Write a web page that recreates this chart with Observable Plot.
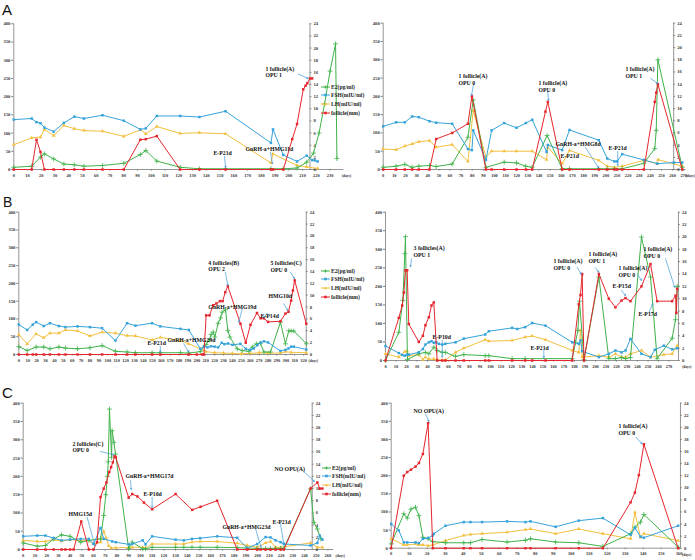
<!DOCTYPE html>
<html><head><meta charset="utf-8">
<script src="https://cdn.jsdelivr.net/npm/d3@7"></script>
<script src="https://cdn.jsdelivr.net/npm/@observablehq/plot@0.6"></script>
<style>
body{margin:0;background:#fff;}
#wrap{position:relative;width:695px;height:560px;overflow:hidden;background:#fff;}
#wrap svg{position:absolute;left:0;top:0;}
.lab{position:absolute;font-family:"Liberation Sans",Arial,sans-serif;line-height:1;color:#111;}
.leg{position:absolute;font-size:5.6px;font-weight:bold;font-family:"Liberation Serif",serif;color:#222;}
.leg div{height:8.6px;display:flex;align-items:center;white-space:nowrap;}
.leg svg{position:static !important;margin-right:1px;}
</style></head><body><div id="wrap"></div>
<script>
// ---------- shared ticks / labels ----------
const LEFT_TICKS = [0,50,100,150,200,250,300,350,400];
const RIGHT_TICKS = [0,2,4,6,8,10,12,14,16,18,20,22,24];
const SERIES_NAMES = ["E2(pg/ml)","FSH(mIU/ml)","LH(mIU/ml)","follicle(mm)"];
const COLORS = ["#3fb24a","#35a3da","#f3c03f","#e5262d"];

// ---------- Panel A left ----------
const aL_E2 = [[0,6],[13,9],[19.4,34],[22.3,43],[29,29],[36.4,15],[44,13],[51,9],[64.5,11],[80,17],[92,41],[96,52],[104,23],[121,6],[135,2],[154,2],[187,2],[196,2],[206,4],[213,20],[218,45],[222,100],[226,180],[230,270],[234,345],[235,30]];
const aL_FSH = [[0,137],[13,140],[16.5,130],[19.4,127],[22.3,115],[29,104],[36.4,128],[44,145],[51,140],[64.5,149],[80,134],[92,110],[96,113],[104,147],[121,147],[135,144],[154,160],[187,73],[188.5,110],[196,40],[206,22],[213,38],[217,26],[219,25],[221,22]];
const aL_LH = [[0,68],[13,87],[19.4,89],[22.3,110],[29,93],[36.4,121],[44,112],[51,107],[64.5,105],[80,91],[92,109],[96,98],[104,118],[121,99],[135,101],[154,98],[187,18],[188.5,43],[206,11],[213,7],[221,3]];
const aL_FOL = [[0,0],[13,0],[16.5,4.9],[19.4,2.9],[22.3,0],[29,0],[36.4,0],[44,0],[51,0],[64.5,0],[80,0],[92,4.9],[96,5],[104,5.5],[121,0],[135,0],[154,0],[187,0],[188.5,0],[196,0],[202.5,5],[206,7.5],[210.5,13.2],[212.2,13.8],[213.4,14.2],[215.4,15],[217,15]];
const aL_NOTES = [[183,268,"1 follicle(A)\nOPU 1"],[168.5,58,"GnRH-a+HMG11d"],[145.2,47,"E-P21d"]];
const aL_ARROWS = [[207,262,214,250],[186.7,47,188.1,16],[153.3,36,154,5]];

// ---------- Panel A right ----------
const aR_E2 = [[0,6],[11.6,9],[19.4,14],[26,6],[32,9],[41.6,11],[47.6,8],[62,15],[76.1,88],[80.9,190],[92.3,6],[108.7,20],[119.8,18],[128,9],[133.9,6],[147.3,93],[160.8,2],[167.4,2],[193.7,2],[201.3,2],[207.8,2],[214.7,2],[234.2,17],[244,57],[245.3,107],[246.8,300],[268.7,6]];
const aR_FSH = [[0,118],[11.6,129],[19.4,129],[26,145],[32,143],[41.6,132],[47.6,128],[62,125],[76.1,56],[79.7,53],[80.9,107],[92.3,26],[97.4,107],[108.7,127],[119.8,114],[128.2,127],[133.9,136],[146.8,48],[147.9,67],[160.8,53],[167.4,108],[193.7,80],[201.3,30],[207.8,22],[210.2,22],[214.7,42],[234.2,26],[246.2,16],[261.2,19],[268.7,19]];
const aR_LH = [[0,56],[11.6,54],[19.4,64],[26,70],[32,76],[41.6,79],[47.6,61],[62,68],[76.1,22],[80.9,161],[92.3,34],[97.4,50],[108.7,50],[119.8,50],[133.9,50],[146.8,27],[147.9,61],[160.8,16],[167.4,52],[193.7,25],[201.3,9],[207.8,6],[214.7,9],[234.2,25],[246.2,16],[247,27],[268.7,9]];
const aR_FOL = [[0,0],[11.6,0],[19.4,0],[26,0],[32,0],[41.6,0],[47.6,5],[62,6],[76.1,7.5],[79.7,12],[92.3,0],[97.4,0],[108.7,0],[119.8,0],[128.2,0],[133.9,0],[145.8,9.5],[147.9,11.1],[160.8,0],[167.4,0],[193.7,0],[201.3,0],[207.8,0],[210.2,0],[214.7,0],[234.2,0],[244,11.1],[245.3,12.6],[246.8,14],[268.7,0]];
const aR_NOTES = [[67.7,246,"1 follicle(A)\nOPU 0"],[139.5,227,"1 follicle(A)\nOPU 0"],[154.8,71,"GnRH-a+HMG8d"],[159.3,38,"E-P21d"],[202.4,60,"E-P21d"],[217.7,265,"1 follicle(A)\nOPU 1"]];
const aR_ARROWS = [[81.2,233,79.4,203],[147.7,214,148.6,189],[181.7,60,193.5,5],[210.7,49,210.7,11],[240.3,249,246.6,235]];

// ---------- Panel B left ----------
const bL_E2 = [[0,22],[9.4,11],[19.5,21],[28,21],[35,16],[45,21],[52.4,18],[66,16],[80,19],[93.6,25],[108.6,9],[121.7,7],[131,5],[149.8,5],[159,5],[181.6,5],[191,4],[204,8],[210.5,28],[214.3,41],[216.1,56],[218.4,63],[220.3,49],[224,88],[226.7,103],[228.5,119],[232.3,126],[234.9,67],[237.2,49],[245.4,16],[251,11],[258.5,9],[262.3,21],[267,30],[271.6,32],[275.4,7],[282.8,7],[294,91],[299.6,30],[303.4,67],[306,66],[309,66],[323.2,30]];
const bL_FSH = [[0,84],[9.4,69],[15.7,84],[19.5,91],[28,80],[35,88],[45,80],[52.4,77],[66,79],[80,77],[93.6,74],[108.6,39],[121.7,88],[131,81],[149.8,88],[159,79],[181.6,72],[191,69],[204,16],[208,23],[212,20],[216,23],[220,22],[224,20],[228,33],[231,29],[235,31],[240,27],[249,30],[255,16],[260,13],[264,17],[268,26],[271.6,33],[275.4,37],[280,34],[294,10],[299.6,13],[303,17],[306,22],[309,22],[323,14]];
const bL_LH = [[0,56],[9.4,30],[19.5,58],[28,47],[35,60],[45,60],[52.4,69],[66,66],[80,52],[93.6,63],[108.6,60],[121.7,53],[131,52],[149.8,41],[159,48],[181.6,39],[191,30],[204,16],[210,8],[220,5],[230,4],[240,3],[250,2],[260,3],[270,5],[280,4],[294,4],[299.6,8],[306,6],[323,5]];
const bL_FOL = [[0,0],[9.4,0],[15.7,0],[19.5,0],[28,0],[35,0],[45,0],[52.4,0],[66,0],[80,0],[93.6,0],[108.6,0],[121.7,0],[131,0],[149.8,0],[159,0],[191,0],[200,0],[206,0],[208,0],[210.5,6.6],[214.3,6.6],[218.4,8.3],[222,8.6],[226,9],[229,9],[232,10.5],[234.9,11.5],[249,5.2],[255,2],[260.3,5],[267.6,7],[271.6,6.1],[275.4,6.1],[280,5.5],[294,5.6],[299.6,6.9],[303,7.2],[306,9.1],[308,10.8],[310,12.5],[323,5.2]];
const bL_NOTES = [[144.6,34,"E-P21d"],[167,42,"GnRH-a+HMG29d"],[213,249,"4 follicles(B)\nOPU 2"],[213,135,"GnRH-a+HMG19d"],[271.6,110,"E-P14d"],[280.6,166,"HMG10d"],[282.8,247,"5 follicles(C)\nOPU 0"]];
const bL_ARROWS = [[159,23,159,6],[185.4,30,191,6.5],[232.2,231,234.8,194],[251,128,247.2,91],[279,116,275.3,103],[297.8,142,302.3,124],[305.3,231,309.8,213]];

// ---------- Panel B right ----------
const bR_E2 = [[0,0],[12.7,76],[16.5,162],[18.4,288],[19,334],[20.9,3],[31.7,18],[38,22],[41.3,18],[46,36],[49.2,27],[54,22],[57,22],[66.7,11],[74.6,16],[95,13],[98.4,13],[120.6,5],[133,5],[177.8,5],[181,49],[183.2,81],[184.8,160],[189,2],[203.2,225],[212.7,5],[219,5],[224.8,8],[228.6,5],[233.3,8],[243.8,333],[252.4,225],[258.7,5],[273,60],[276.2,110],[277.8,200]];
const bR_FSH = [[0,39],[12.7,20],[15.9,15],[18.4,13],[20.6,16],[22.2,16],[31.7,22],[35.6,31],[38,43],[41.3,49],[43.8,52],[46,48],[48.3,49],[50.8,45],[54,43],[57,45],[66.7,49],[74.6,59],[95,70],[98.4,79],[120.6,88],[125.4,85],[133,90],[139.7,101],[152.4,94],[177.8,49],[184.1,45],[185.7,54],[187.3,25],[203.2,9],[212.7,18],[219,27],[224.8,22],[228.6,27],[233.3,58],[243.8,18],[252.4,9],[256.5,29],[265.1,40],[273,30],[277.8,33]];
const bR_LH = [[0,18],[12.7,9],[18.4,24],[20.6,25],[22.2,13],[31.7,16],[35.6,2],[38,9],[41.3,4],[46,4],[49.2,2],[54,1],[57,1],[66.7,22],[74.6,33],[95,56],[98.4,52],[120.6,54],[133,63],[139.7,66],[152.4,56],[177.8,27],[184.1,22],[185.7,81],[187.3,9],[203.2,13],[212.7,9],[219,18],[224.8,9],[228.6,9],[233.3,18],[243.8,27],[252.4,9],[265.1,16],[273,18],[277.8,40]];
const bR_FOL = [[0,0],[12.7,6.9],[15.9,8.9],[17.5,11],[19,14.6],[20.6,14.6],[22.2,5.9],[31.7,3],[35.6,4],[38,5.7],[41.3,7],[43.8,8.9],[46,9.4],[49.2,0],[54,0],[57,0],[66.7,0],[74.6,0],[95,0],[98.4,0],[120.6,0],[133,0],[139.7,0],[152.4,0],[177.8,0],[184.1,9.1],[185.7,10.6],[187.3,14],[189,0],[203.2,14],[212.7,10],[219,8.6],[224.8,9.7],[228.6,10.1],[233.3,9.6],[243.8,12],[252.4,15.6],[258.7,9.6],[273,9.6],[276.2,10.5],[277,7.7],[277.8,11.6]];
const bR_NOTES = [[26.7,295,"3 follicles(A)\nOPU 1"],[44.8,65,"E-P10d"],[138,35,"E-P21d"],[160,260,"1 follicle(A)\nOPU 0"],[193.3,278,"1 follicle(A)\nOPU 1"],[216.2,202,"E-P15d"],[222,241,"1 follicle(A)\nOPU 0"],[241,127,"E-P17d"],[245.7,291,"1 follicle(A)\nOPU 0"]];
const bR_ARROWS = [[24.8,274,23.8,253],[54,54,54,9],[150.8,27,150.8,7],[182.6,251,186.4,233],[200,250,203.2,238],[224.8,189,228.6,175],[239.7,234,243.8,216],[250.8,130,254.6,153],[266.7,274,275.5,197]];

// ---------- Panel C left ----------
const cL_E2 = [[0,18],[12,9],[19,11],[26,29],[32.7,40],[40,36],[49,20],[56,25],[66,29],[68.7,93],[70.5,150],[71.8,200],[72.6,240],[73.6,384],[75.4,252],[75.9,325],[77.4,293],[78.8,261],[90,2],[93,20],[102,2],[104.4,2],[110,6],[130,6],[137,6],[144,6],[151,6],[165.5,6],[182.6,5],[191,4],[199.6,3],[206.8,3],[211,3],[215.3,3],[219.6,3],[222.4,3],[245.2,166],[248,74],[251,56],[254,29]];
const cL_FSH = [[0,36],[12,38],[19,38],[26,31],[32.7,25],[40,27],[49,29],[56,29],[60,15],[66,59],[68.7,29],[76,22],[79,20],[90,14],[93,15],[102,25],[104.4,14],[110,36],[130,27],[137,25],[144,29],[151,31],[165.5,36],[182.6,32],[191,4],[199.6,15],[206.8,34],[211,33],[215.3,25],[219.6,20],[222.4,15],[245.2,11],[251,18],[253,38],[255.3,27]];
const cL_LH = [[0,25],[12,22],[19,22],[26,27],[32.7,23],[40,27],[49,25],[56,25],[60,15],[66,20],[68.7,50],[71,30],[73,10],[75,4],[79,5],[90,5],[93,6],[102,6],[104.4,4],[110,15],[130,15],[137,15],[144,20],[151,22],[165.5,22],[182.6,17],[191,11],[199.6,6],[206.8,18],[211,22],[215.3,6],[219.6,6],[245.2,18],[251,6],[255.3,6]];
const cL_FOL = [[0,0],[12,0],[19,0],[26,0],[32.7,0],[36,0],[40,0],[43,0],[49.5,4.6],[56,0],[60,0],[63,1.2],[66,8.6],[68.7,10],[71,11],[73.4,12.7],[75,13.5],[76.5,14.3],[78,15.3],[79,15.1],[90,8.5],[93,9.1],[97.5,8.7],[103,7.7],[110,6.6],[130,9.1],[144.2,6.5],[151.3,7],[165.5,8],[182.6,0],[191.2,0],[199.6,0],[202.5,0],[206.8,0],[211,0],[215.3,0],[219.6,0],[222.4,0],[245.2,10],[251,11],[253,10],[255.3,10]];
const cL_NOTES = [[42,281,"2 follicles(C)\nOPU 0"],[87.3,202,"GnRH-a+HMG17d"],[102.6,153,"E-P10d"],[38.7,98,"HMG15d"],[170,63,"GnRH-a+HMG23d"],[212.7,76,"E-P21d"],[214.4,221,"NO OPU(A)"]];
const cL_ARROWS = [[66,268,77.3,259],[91.6,188,92.1,164],[110,143,110,115],[54.6,88,61.1,11],[198.2,57,203,6],[219.5,70,222.3,16],[239.4,213,248.5,186]];

// ---------- Panel C right ----------
const cR_E2 = [[0,12],[7,95],[8.9,83],[11,108],[13.5,113],[15.4,90],[17.6,30],[20.5,26],[23.1,18],[30.2,15],[40.3,15],[44,15],[50.5,24],[64.4,17],[74.6,22],[77.4,26],[91.3,17],[104.2,15],[117.6,5],[133,40],[135.4,58],[138.5,72],[140.4,93],[159.4,3]];
const cR_FSH = [[0,67],[4.2,49],[7,16],[8.9,16],[13.5,16],[15.4,14],[17.6,26],[20.5,28],[23.1,35],[23.7,40],[30.2,62],[40.3,72],[44,72],[50.5,72],[64.4,74],[74.6,72],[77.4,74],[91.3,59],[104.2,76],[117.6,83],[133,37],[135.4,56],[138.5,32],[140.4,29],[159.4,62]];
const cR_LH = [[0,26],[7,9],[8.9,9],[13.5,12],[15.4,9],[17.6,9],[20.5,7],[23.1,9],[30.2,21],[40.3,35],[44,38],[50.5,40],[64.4,44],[74.6,51],[77.4,53],[91.3,40],[104.2,53],[117.6,40],[133,26],[135.4,99],[138.5,30],[140.4,40],[159.4,21]];
const cR_FOL = [[0,0],[7,12],[8.9,12.6],[11,13],[13.5,13.5],[15.4,14.1],[17.6,15.6],[20.5,20.7],[23.1,0],[30.2,0],[40.3,0],[44,0],[50.5,0],[64.4,0],[74.6,0],[77.4,0],[91.3,0],[104.2,0],[117.6,0],[133,7.6],[135.4,9.2],[137.6,12.1],[140.4,17.2],[159.4,0]];
const cR_NOTES = [[12.4,380,"NO OPU(A)"],[126.3,327,"1 follicle(A)\nOPU 0"]];
const cR_ARROWS = [[19,371,20.9,350],[136,306,139.4,288]];

// ---------- layout (pixels) ----------
const LAYOUT = [
  {x0:13.3, ppd:1.375, dMax:240, top:23.3, bottom:169, rDay:215.4, lastTick:230, daysAt:238.5, data:[aL_E2,aL_FSH,aL_LH,aL_FOL], notes:aL_NOTES, arrows:aL_ARROWS},
  {x0:382.7, ppd:1.113, dMax:272, top:22.7, bottom:169, rDay:261, lastTick:270, daysAt:271.6, data:[aR_E2,aR_FSH,aR_LH,aR_FOL], notes:aR_NOTES, arrows:aR_ARROWS},
  {x0:18.3, ppd:0.89, dMax:325, top:211.7, bottom:354, rDay:323, lastTick:320, daysAt:325.5, data:[bL_E2,bL_FSH,bL_LH,bL_FOL], notes:bL_NOTES, arrows:bL_ARROWS},
  {x0:385, ppd:1.05, dMax:280, top:211.7, bottom:360, rDay:279, lastTick:270, daysAt:282.5, data:[bR_E2,bR_FSH,bR_LH,bR_FOL], notes:bR_NOTES, arrows:bR_ARROWS},
  {x0:22.7, ppd:1.172, dMax:265, top:402.7, bottom:549, rDay:246.6, lastTick:260, daysAt:266.5, data:[cL_E2,cL_FSH,cL_LH,cL_FOL], notes:cL_NOTES, arrows:cL_ARROWS},
  {x0:390.7, ppd:1.8, dMax:161, top:402.7, bottom:547.7, rDay:160.7, lastTick:160, daysAt:161.6, data:[cR_E2,cR_FSH,cR_LH,cR_FOL], notes:cR_NOTES, arrows:cR_ARROWS}
];
const MM = 400/24;
const AXIS = "#7a7a7a";
const FONT = "Liberation Serif";

const wrap = document.getElementById("wrap");

function seriesMarks(arr, i) {
  const yf = i === 3 ? d => d[1]*MM : d => d[1];
  const m = [Plot.line(arr, {x: d => d[0], y: yf, stroke: COLORS[i], strokeWidth: 1})];
  if (i === 0) m.push(Plot.dot(arr, {x: d => d[0], y: yf, symbol: "plus", r: 1.7, stroke: COLORS[i], strokeWidth: 0.8}));
  else m.push(Plot.dot(arr, {x: d => d[0], y: yf, symbol: i === 2 ? "triangle" : "square", r: 1.4, fill: COLORS[i], stroke: "none"}));
  return m;
}

LAYOUT.forEach(L => {
  const x1 = L.x0 + L.dMax * L.ppd;
  const xt = d3.range(0, L.lastTick + 1, 10);
  const order = [2, 0, 1, 3];
  const svg = Plot.plot({
    width: 695, height: 560,
    marginLeft: L.x0, marginRight: 695 - x1, marginTop: L.top, marginBottom: 560 - L.bottom,
    x: {domain: [0, L.dMax]},
    y: {domain: [0, 400]},
    style: {background: "none", overflow: "visible", fontFamily: FONT, fontWeight: "bold", color: "#333"},
    marks: [
      Plot.ruleY([0], {x1: 0, x2: L.dMax, stroke: AXIS, strokeWidth: 0.8}),
      Plot.ruleX([0], {y1: 0, y2: 400, stroke: AXIS, strokeWidth: 0.8}),
      Plot.ruleX([L.rDay], {y1: 0, y2: 400, stroke: AXIS, strokeWidth: 0.8}),
      Plot.axisY({ticks: LEFT_TICKS, tickSize: 2, tickPadding: 1.5, fontSize: 4.6, stroke: AXIS, label: null}),
      Plot.axisX({ticks: xt, tickSize: 1.5, tickPadding: 2.5, fontSize: 4.4, stroke: AXIS, label: null}),
      Plot.ruleY(RIGHT_TICKS, {y: v => v*MM, x1: L.rDay, x2: L.rDay + 2/L.ppd, stroke: AXIS, strokeWidth: 0.8}),
      Plot.text(RIGHT_TICKS, {y: v => v*MM, x: L.rDay, dx: 3.5, text: d => String(d), textAnchor: "start", fontSize: 4.6, fill: "#333"}),
      Plot.text(["(days)"], {x: L.daysAt, y: 0, dy: 6.3, text: d => d, textAnchor: "start", fontSize: 3.6, fill: "#333"}),
      ...order.flatMap(i => seriesMarks(L.data[i], i)),
      Plot.arrow(L.arrows, {x1: d => d[0], y1: d => d[1], x2: d => d[2], y2: d => d[3], stroke: "#3d9bd8", strokeWidth: 0.7, headLength: 3}),
      Plot.text(L.notes, {x: d => d[0], y: d => d[1], text: d => d[2], textAnchor: "start", fontSize: 5.8, lineHeight: 1.15, fill: "#111", fontWeight: "bold"})
    ]
  });
  wrap.appendChild(svg);
});

// ---------- legends & panel letters ----------
const LEGEND_POS = [[321, 82.5], [321, 266.5], [322, 463.5]];
LEGEND_POS.forEach(([lx, ly]) => {
  const g = document.createElement("div");
  g.className = "leg";
  g.style.left = lx + "px"; g.style.top = ly + "px";
  SERIES_NAMES.forEach((name, i) => {
    const row = document.createElement("div");
    const sym = i === 0 ? `<path d="M4.5 1.3V4.7M2.8 3H6.2" stroke="${COLORS[i]}" stroke-width="0.8"/>`
      : i === 2 ? `<path d="M4.5 1.6L6 4.2H3Z" fill="${COLORS[i]}"/>`
      : `<rect x="3.2" y="1.7" width="2.6" height="2.6" fill="${COLORS[i]}"/>`;
    row.innerHTML = `<svg width="9" height="6" viewBox="0 0 9 6"><line x1="0" y1="3" x2="9" y2="3" stroke="${COLORS[i]}" stroke-width="1"/>${sym}</svg><span>${name}</span>`;
    g.appendChild(row);
  });
  wrap.appendChild(g);
});
const LETTERS = [["A", 2, 2, 15], ["B", 3, 194.5, 14], ["C", 2, 385, 15]];
LETTERS.forEach(([t, x, y, s]) => {
  const d = document.createElement("div");
  d.className = "lab"; d.textContent = t;
  d.style.left = x + "px"; d.style.top = y + "px"; d.style.fontSize = s + "px";
  wrap.appendChild(d);
});
</script></body></html>
